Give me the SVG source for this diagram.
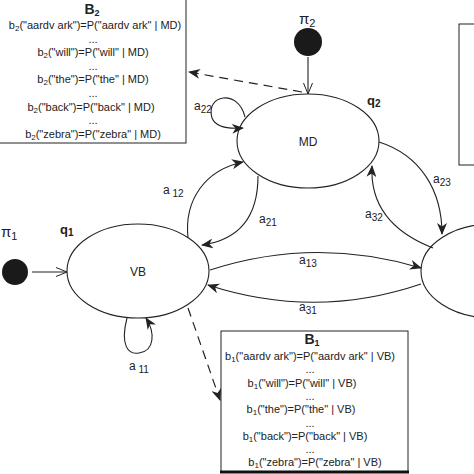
<svg xmlns="http://www.w3.org/2000/svg" width="474" height="474" viewBox="0 0 474 474">
<style>
.ln{fill:none;stroke:#222;stroke-width:1.1}
.dash{fill:none;stroke:#222;stroke-width:1.2;stroke-dasharray:9,6}
.node{fill:#fff;stroke:#222;stroke-width:1.1}
.box{fill:#fff;stroke:#222;stroke-width:1}
.t{font-family:"Liberation Sans",Arial,sans-serif;fill:#222}
.bt{font-size:11px;text-anchor:middle}
.hd{font-size:14px;font-weight:bold;text-anchor:middle}
.lb{font-size:12px}
.st{font-size:13px;font-weight:bold}
</style>
<defs>
<marker id="fa" viewBox="0 0 12 10" refX="11" refY="5" markerWidth="12" markerHeight="10" markerUnits="userSpaceOnUse" orient="auto">
<path d="M0,0 L12,5 L0,10 L3.5,5 z" fill="#222"/>
</marker>
<marker id="oa" viewBox="0 0 12 10" refX="11" refY="5" markerWidth="12" markerHeight="10" markerUnits="userSpaceOnUse" orient="auto">
<path d="M0,0.5 L11,5 L0,9.5" fill="none" stroke="#222" stroke-width="1"/>
</marker>
</defs>
<rect width="474" height="474" fill="#fff"/>

<g id="B2">
<rect class="box" x="-5" y="-5" width="191" height="148"/>
<text class="t hd" x="92" y="14">B<tspan font-size="9" dy="2">2</tspan></text>
<text class="t bt" x="95" y="29">b<tspan font-size="8" dy="2">2</tspan><tspan dy="-2">("aardv ark")=P("aardv ark" | MD)</tspan></text>
<text class="t bt" x="93" y="42.6">...</text>
<text class="t bt" x="93" y="56.2">b<tspan font-size="8" dy="2">2</tspan><tspan dy="-2">("will")=P("will" | MD)</tspan></text>
<text class="t bt" x="93" y="69.8">...</text>
<text class="t bt" x="93" y="83.4">b<tspan font-size="8" dy="2">2</tspan><tspan dy="-2">("the")=P("the" | MD)</tspan></text>
<text class="t bt" x="93" y="97">...</text>
<text class="t bt" x="91" y="110.6">b<tspan font-size="8" dy="2">2</tspan><tspan dy="-2">("back")=P("back" | MD)</tspan></text>
<text class="t bt" x="93" y="124.2">...</text>
<text class="t bt" x="93" y="137.8">b<tspan font-size="8" dy="2">2</tspan><tspan dy="-2">("zebra")=P("zebra" | MD)</tspan></text>
</g>

<g id="B1">
<rect class="box" x="221" y="331" width="187" height="141"/>
<line x1="220" y1="472" x2="409" y2="472" stroke="#111" stroke-width="3"/>
<text class="t hd" x="312" y="344">B<tspan font-size="9" dy="2">1</tspan></text>
<text class="t bt" x="310" y="360">b<tspan font-size="8" dy="2">1</tspan><tspan dy="-2">("aardv ark")=P("aardv ark" | VB)</tspan></text>
<text class="t bt" x="310" y="373.3">...</text>
<text class="t bt" x="302" y="386.6">b<tspan font-size="8" dy="2">1</tspan><tspan dy="-2">("will")=P("will" | VB)</tspan></text>
<text class="t bt" x="310" y="399.9">...</text>
<text class="t bt" x="301" y="413.2">b<tspan font-size="8" dy="2">1</tspan><tspan dy="-2">("the")=P("the" | VB)</tspan></text>
<text class="t bt" x="310" y="426.5">...</text>
<text class="t bt" x="305" y="439.8">b<tspan font-size="8" dy="2">1</tspan><tspan dy="-2">("back")=P("back" | VB)</tspan></text>
<text class="t bt" x="310" y="453.1">...</text>
<text class="t bt" x="315" y="466.4">b<tspan font-size="8" dy="2">1</tspan><tspan dy="-2">("zebra")=P("zebra" | VB)</tspan></text>
</g>

<g id="box3">
<rect class="box" x="459" y="24" width="30" height="141"/>
</g>

<g id="pi2">
<circle cx="308" cy="42" r="14" fill="#1a1a1a"/>
<text class="t" x="299" y="24" font-size="15">π<tspan font-size="11" dy="3">2</tspan></text>
</g>
<g id="pi1">
<circle cx="15" cy="272" r="13" fill="#1a1a1a"/>
<text class="t" x="1" y="237" font-size="15">π<tspan font-size="11" dy="3">1</tspan></text>
</g>

<g id="MD">
<ellipse class="node" cx="308" cy="141" rx="71" ry="47"/>
<text class="t" x="308" y="146" font-size="12" text-anchor="middle">MD</text>
<text class="t st" x="367" y="105">q<tspan font-size="10" dy="2">2</tspan></text>
</g>
<g id="VB">
<ellipse class="node" cx="138" cy="271" rx="71" ry="47"/>
<text class="t" x="138" y="276" font-size="12" text-anchor="middle">VB</text>
<text class="t st" x="60" y="234">q<tspan font-size="10" dy="2">1</tspan></text>
</g>
<g id="S3">
<ellipse class="node" cx="492" cy="271" rx="71" ry="47"/>
</g>

<g id="connectors">
<line class="ln" x1="308" y1="57" x2="308" y2="94" marker-end="url(#oa)"/>
<line class="ln" x1="32" y1="272" x2="67" y2="272" marker-end="url(#oa)"/>
<line class="dash" x1="302" y1="92" x2="189" y2="72" marker-end="url(#fa)"/>
<line class="dash" x1="188" y1="308" x2="220" y2="400" marker-end="url(#fa)"/>
<path class="ln" d="M188,238 C184,200 205,170 243,162" marker-end="url(#fa)"/>
<path class="ln" d="M258,176 C258,218 238,240 202,245" marker-end="url(#fa)"/>
<path class="ln" d="M210,270 Q315,236 421,268" marker-end="url(#fa)"/>
<path class="ln" d="M421,284 Q315,320 208,285" marker-end="url(#fa)"/>
<path class="ln" d="M433,248 C392,232 370,205 372,166" marker-end="url(#fa)"/>
<path class="ln" d="M379,142 C420,155 442,190 442,234" marker-end="url(#fa)"/>
<path class="ln" d="M245,117 C238,88 205,95 212,118 C216,128 230,129 243,128" marker-end="url(#fa)"/>
<path class="ln" d="M127,318 C120,345 128,355 139,353 C155,351 155,332 146,318" marker-end="url(#fa)"/>
</g>

<g id="labels">
<text class="t lb" x="194" y="110">a<tspan font-size="10" dy="3">22</tspan></text>
<text class="t lb" x="163" y="194">a<tspan font-size="10" dy="3"> 12</tspan></text>
<text class="t lb" x="259" y="223">a<tspan font-size="10" dy="3">21</tspan></text>
<text class="t lb" x="365" y="218">a<tspan font-size="10" dy="3">32</tspan></text>
<text class="t lb" x="433" y="183">a<tspan font-size="10" dy="3">23</tspan></text>
<text class="t lb" x="299" y="264">a<tspan font-size="10" dy="3">13</tspan></text>
<text class="t lb" x="299" y="311">a<tspan font-size="10" dy="3">31</tspan></text>
<text class="t lb" x="129" y="370">a<tspan font-size="10" dy="3"> 11</tspan></text>
</g>
</svg>
